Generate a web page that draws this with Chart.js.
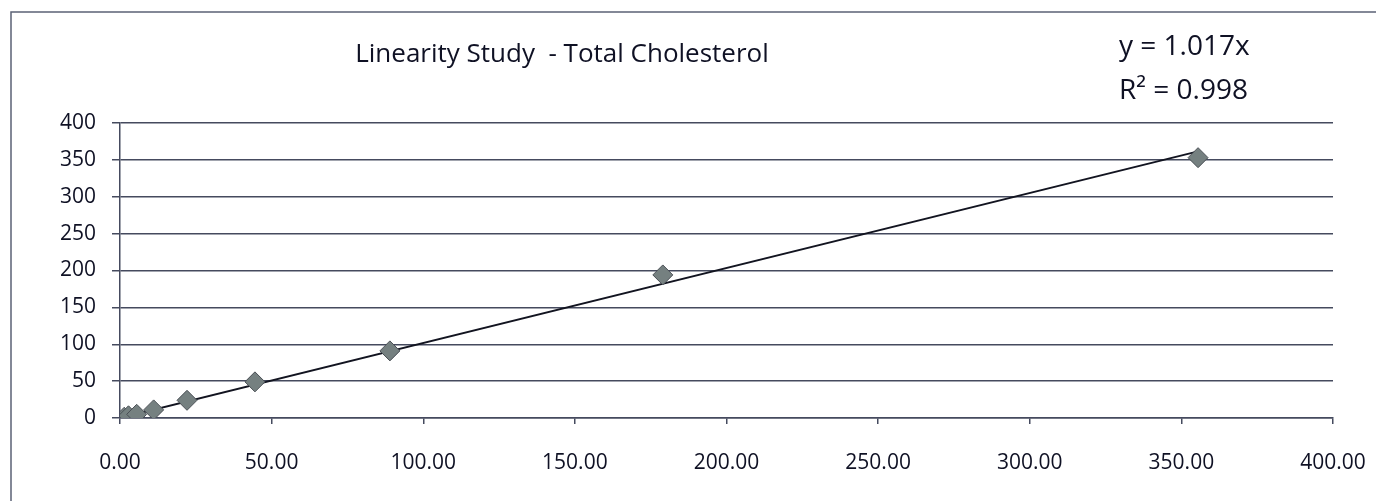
<!DOCTYPE html>
<html>
<head>
<meta charset="utf-8">
<script src="https://cdn.jsdelivr.net/npm/chart.js@4.4.1/dist/chart.umd.min.js"></script>
<style>
  html, body { margin: 0; padding: 0; background: #ffffff; }
  #wrap { width: 1376px; height: 501px; position: relative; }
</style>
</head>
<body>
<div id="wrap"><canvas id="myChart" width="1376" height="501"></canvas></div>
<script>
// measured points
var concX = [1.4, 2.8, 5.5, 11.1, 22.1, 44.5, 89, 179, 355.5];
var measY = [1, 3, 5, 11, 24, 49, 91, 194, 353];

// linear trendline through origin (end points)
var trendX = [0, 355.5];
var trendY = [0, 361.5];

var titleText = "Linearity Study  - Total Cholesterol";
var eqLines = ["y = 1.017x", "R\u00B2 = 0.998"];

var axisMin = 0;
var axisMax = 400;
var axisStep = 50;

var textCol = "#0f1124";
var gridCol = "#454a5e";
var fontName = "'Open Sans'";

function toPoints(xs, ys) {
    var pts = [];
    for (var i = 0; i < xs.length; i++) {
        pts.push({ x: xs[i], y: ys[i] });
    }
    return pts;
}

// frame, title (off-centre like the original) and trendline equation
var extras = {
    id: "extras",
    beforeDraw: function (chart) {
        var ctx = chart.ctx;
        ctx.save();
        ctx.strokeStyle = "#5b6275";
        ctx.lineWidth = 1.5;
        ctx.strokeRect(11, 12, 1400, 600);
        ctx.restore();
    },
    afterDraw: function (chart) {
        var ctx = chart.ctx;
        ctx.save();
        ctx.fillStyle = textCol;
        ctx.textBaseline = "middle";
        ctx.textAlign = "center";
        ctx.font = "26px " + fontName;
        ctx.fillText(titleText, 562, 55);
        ctx.textAlign = "left";
        ctx.font = "28px " + fontName;
        ctx.fillText(eqLines[0], 1119, 47);
        ctx.fillText(eqLines[1], 1119, 91);
        ctx.restore();
    }
};

new Chart("myChart", {
    type: "scatter",
    data: {
        datasets: [{
            label: "Trend",
            type: "line",
            data: toPoints(trendX, trendY),
            borderColor: "#121420",
            borderWidth: 2,
            pointRadius: 0,
            fill: false,
            order: 2
        }, {
            label: "Total Cholesterol",
            data: toPoints(concX, measY),
            pointStyle: "rectRot",
            pointRadius: 10,
            pointBackgroundColor: "#758080",
            pointBorderColor: "#4a4f55",
            pointBorderWidth: 1,
            order: 1
        }]
    },
    options: {
        responsive: false,
        animation: false,
        layout: { padding: { left: 0, right: 43, top: 123, bottom: 0 } },
        plugins: {
            legend: { display: false },
            tooltip: { enabled: false },
            title: { display: false }
        },
        scales: {
            x: {
                type: "linear",
                min: axisMin,
                max: axisMax,
                afterFit: function (scale) {
                    scale.height = 83;
                    scale.paddingLeft = 0;
                    scale.paddingRight = 0;
                },
                ticks: {
                    stepSize: axisStep,
                    color: textCol,
                    font: { family: "Open Sans", size: 21 },
                    padding: 26,
                    maxRotation: 0,
                    callback: function (v) { return Number(v).toFixed(2); }
                },
                grid: {
                    drawOnChartArea: false,
                    drawTicks: true,
                    tickLength: 6,
                    color: gridCol,
                    lineWidth: 1.5
                },
                border: { display: true, color: gridCol, width: 1.5 }
            },
            y: {
                type: "linear",
                min: axisMin,
                max: axisMax,
                afterFit: function (scale) { scale.width = 120; },
                ticks: {
                    stepSize: axisStep,
                    color: textCol,
                    font: { family: "Open Sans", size: 21 },
                    padding: 16
                },
                grid: {
                    color: gridCol,
                    lineWidth: 1.5,
                    drawTicks: true,
                    tickLength: 8
                },
                border: { display: true, color: gridCol, width: 1.5 }
            }
        }
    },
    plugins: [extras]
});
</script>
</body>
</html>
